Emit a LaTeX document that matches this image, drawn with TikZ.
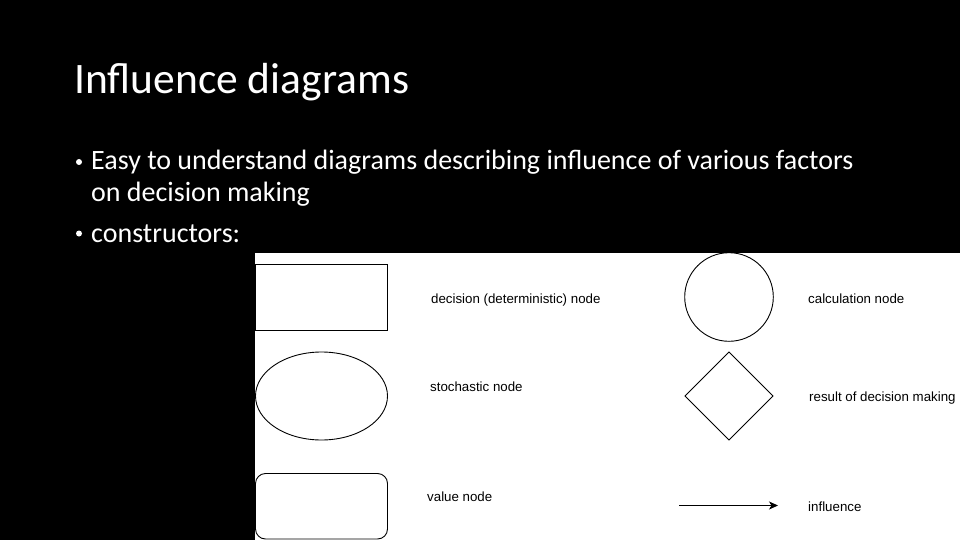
\documentclass[tikz,border=0pt]{standalone}
\usepackage{fontspec}
\newfontfamily\carlito{Carlito}
\newfontfamily\libsans{Liberation Sans}
\usetikzlibrary{shapes.geometric,arrows.meta}
\begin{document}
\begin{tikzpicture}[x=1pt,y=-1pt,
  titletext/.style={text=white,font=\carlito\fontsize{43.5}{50}\selectfont,anchor=base west,inner sep=0pt},
  bullettext/.style={text=white,font=\carlito\fontsize{28}{31}\selectfont,anchor=base west,inner sep=0pt},
  labeltext/.style={text=black,font=\libsans\fontsize{13.3}{16}\selectfont,anchor=base west,inner sep=0pt},
  shapeline/.style={draw=black,line width=0.9pt},
  flowarrow/.style={draw=black,line width=0.9pt,-{Stealth[length=9pt,width=8pt,inset=2.5pt]}}
]
\useasboundingbox (0,0) rectangle (960,540);
\fill[black] (0,0) rectangle (960,540);
\fill[white] (255,253) rectangle (960,540);

% title and bullets
\node[titletext] (title) at (74,93.3) {Influence diagrams};
\fill[white] (79,162) circle (3pt);
\node[bullettext] (b1) at (91,170) {Easy to understand diagrams describing influence of various factors};
\node[bullettext] (b1b) at (91,201) {on decision making};
\fill[white] (79,233.5) circle (3pt);
\node[bullettext] (b2) at (91,242) {constructors:};

% left column shapes
\draw[shapeline] (255.5,264) rectangle (387.5,330);
\draw[shapeline] (321.5,396) ellipse [x radius=66, y radius=44];
\draw[shapeline,rounded corners=10pt] (255.5,473.5) rectangle (387.5,539);

\node[labeltext] (ldec) at (431,303) {decision (deterministic) node};
\node[labeltext] (lsto) at (430,391) {stochastic node};
\node[labeltext] (lval) at (427,501) {value node};

% right column shapes
\draw[shapeline] (729,297) circle (44.3);
\draw[shapeline] (729,352) -- (773,396) -- (729,440) -- (685,396) -- cycle;
\coordinate (arrS) at (679,505.5);
\coordinate (arrE) at (778,505.5);
\draw[flowarrow] (arrS) -- (arrE);

\node[labeltext] (lcal) at (808,303) {calculation node};
\node[labeltext] (lres) at (809,401) {result of decision making};
\node[labeltext] (linf) at (808,511) {influence};
\end{tikzpicture}
\end{document}
